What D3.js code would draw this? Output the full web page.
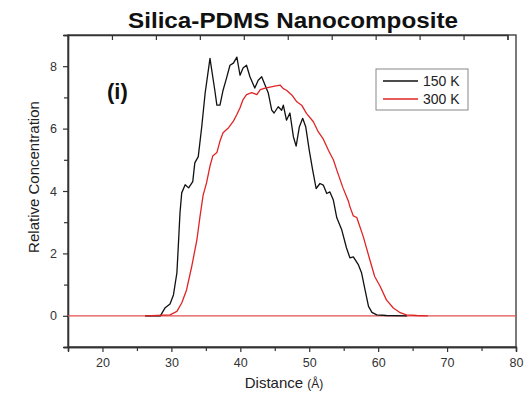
<!DOCTYPE html>
<html>

<head>
    <meta charset="UTF-8">
    <style>
        body { margin: 0; background: #fff; }
        text { font-family: "Liberation Sans", Arial, sans-serif; }
    </style>
</head>

<body>
    <script src="https://d3js.org/d3.v7.min.js"></script>
    <div id="chart"></div>
    <script>
        // 150 K curve (distance in A, relative concentration)
        var dist150 = [26.2, 28.4, 29.1, 29.8, 30.3, 30.8, 31.0, 31.25, 31.5, 32.0, 32.5, 33.1, 33.4, 33.9, 34.4, 34.9, 35.6,
            36.3, 36.6, 37.05, 37.5, 38.0, 38.5, 39.0, 39.5, 39.96, 40.4, 40.9, 41.4, 42.1, 42.6, 43.1, 43.6, 44.06, 44.56,
            44.9, 45.5, 46.0, 46.24, 46.7, 47.2, 47.7, 48.1, 48.56, 49.05, 49.5, 50.0, 50.5, 51.0, 51.56, 52.04, 52.54, 53.0,
            53.5, 54.0, 54.7, 55.4, 55.9, 56.4, 57.1, 57.6, 58.1, 58.6, 59.1, 59.8, 61.2, 64.2];
        var conc150 = [0, 0, 0.26, 0.38, 0.67, 1.38, 2.21, 3.3, 3.94, 4.2, 4.1, 4.3, 4.9, 5.1, 6.05, 7.14, 8.25,
            7.23, 6.75, 6.75, 7.23, 7.62, 8.03, 8.1, 8.29, 7.71, 7.94, 8.03, 7.66, 7.3, 7.55, 7.66, 7.39, 7.14, 6.59,
            6.5, 6.7, 6.59, 6.75, 6.27, 6.5, 5.74, 5.44, 6.05, 6.33, 6.05, 5.31, 4.67, 4.08, 4.24, 4.19, 3.92, 3.97,
            3.71, 3.14, 2.77, 2.18, 1.86, 1.89, 1.65, 1.37, 0.83, 0.3, 0.11, 0.03, 0.01, 0];

        // 300 K curve
        var dist300 = [26.2, 29.8, 30.8, 31.5, 32.2, 32.95, 33.7, 34.15, 34.6, 35.1, 35.6, 36.0, 36.6, 37.05, 37.5, 38.3,
            39.0, 39.5, 39.96, 40.4, 40.9, 41.65, 42.4, 42.9, 43.6, 44.3, 45.0, 45.8, 46.24, 46.7, 47.5, 48.2, 48.9, 49.6,
            50.6, 51.3, 52.0, 52.8, 53.5, 54.0, 54.9, 55.7, 55.9, 56.4, 56.9, 57.85, 58.8, 59.5, 60.3, 61.2, 62.2, 63.2,
            64.1, 65.6, 67.2];
        var conc300 = [0, 0.03, 0.14, 0.41, 0.83, 1.58, 2.43, 3.18, 3.86, 4.26, 4.8, 5.12, 5.23, 5.6, 5.87, 6.03,
            6.24, 6.45, 6.67, 6.93, 7.09, 7.15, 7.09, 7.25, 7.3, 7.33, 7.36, 7.39, 7.28, 7.23, 7.07, 6.86, 6.75, 6.49,
            6.22, 5.9, 5.68, 5.3, 5.0, 4.67, 4.1, 3.66, 3.5, 3.2, 3.15, 2.53, 1.79, 1.26, 0.94, 0.51, 0.25, 0.1,
            0.03, 0.01, 0];

        var seriesNames = ["150 K", "300 K"];
        var seriesColors = ["#111111", "#e02424"];
        var xTicks = [20, 30, 40, 50, 60, 70, 80];
        var yTicks = [0, 2, 4, 6, 8];

        const W = 531, H = 393;
        const margin = { top: 35, right: 15, bottom: 46, left: 68 },
            width = W - margin.left - margin.right,
            height = H - margin.top - margin.bottom;

        const svg = d3.select("#chart")
            .append("svg")
            .attr("width", W)
            .attr("height", H)
            .append("g")
            .attr("transform", `translate(${margin.left}, ${margin.top})`);

        const x = d3.scaleLinear().domain([15, 80]).range([0, width]);
        const y = d3.scaleLinear().domain([-1, 9]).range([height, 0]);

        // title
        svg.append("text")
            .attr("x", 293 - margin.left)
            .attr("y", 28 - margin.top)
            .attr("text-anchor", "middle")
            .attr("font-size", 22)
            .attr("font-weight", "bold")
            .attr("textLength", 330)
            .attr("lengthAdjust", "spacingAndGlyphs")
            .attr("fill", "#111")
            .text("Silica-PDMS Nanocomposite");

        // frame
        svg.append("rect")
            .attr("width", width)
            .attr("height", height)
            .attr("fill", "none")
            .attr("stroke", "#333")
            .attr("stroke-width", 1.3);

        // bottom axis, majors + minors
        const xAxis = svg.append("g")
            .attr("transform", `translate(0, ${height})`)
            .call(d3.axisBottom(x).tickValues(xTicks).tickSize(5).tickPadding(6).tickFormat(d3.format("d")));
        svg.append("g")
            .attr("transform", `translate(0, ${height})`)
            .call(d3.axisBottom(x).tickValues(d3.range(15, 80, 10)).tickSize(4).tickFormat(""));

        // left axis
        const yAxis = svg.append("g")
            .call(d3.axisLeft(y).tickValues(yTicks).tickSize(5).tickPadding(6).tickFormat(d3.format("d")));
        svg.append("g")
            .call(d3.axisLeft(y).tickValues([-1, 1, 3, 5, 7]).tickSize(4).tickFormat(""));

        // top ticks (inward)
        const xTop = d3.scaleLinear().domain([0, 10]).range([0, 439.5]);
        svg.append("g")
            .call(d3.axisTop(xTop).tickValues(d3.range(1, 11)).tickSize(-5).tickFormat(""));

        svg.selectAll(".domain").attr("stroke", "#333").attr("stroke-width", 1.3);
        svg.selectAll(".tick line").attr("stroke", "#333").attr("stroke-width", 1.2);
        svg.selectAll(".tick text").attr("font-size", 12.5).attr("fill", "#333")
            .attr("font-family", "Liberation Sans, Arial, sans-serif");

        // axis titles
        svg.append("text")
            .attr("transform", `translate(${39 - margin.left}, ${177 - margin.top}) rotate(-90)`)
            .attr("text-anchor", "middle")
            .attr("font-size", 15)
            .attr("fill", "#222")
            .text("Relative Concentration");

        const xl = svg.append("text")
            .attr("x", 284 - margin.left)
            .attr("y", 388 - margin.top)
            .attr("text-anchor", "middle")
            .attr("font-size", 15)
            .attr("fill", "#222");
        xl.append("tspan").text("Distance ");
        xl.append("tspan").attr("font-size", 12).text("(Å)");

        // zero baseline
        const line = d3.line().x(d => x(d[0])).y(d => y(d[1]));
        svg.append("path")
            .datum(x.domain().map(d => [d, 0]))
            .attr("d", line)
            .attr("fill", "none")
            .attr("stroke", "#e05050")
            .attr("stroke-width", 1.2);

        // curves
        const series = [d3.zip(dist150, conc150), d3.zip(dist300, conc300)];
        series.forEach(function (s, i) {
            svg.append("path")
                .datum(s)
                .attr("d", line)
                .attr("fill", "none")
                .attr("stroke", seriesColors[i])
                .attr("stroke-width", 1.3)
                .attr("stroke-linejoin", "round");
        });

        // panel label
        svg.append("text")
            .attr("x", 107 - margin.left)
            .attr("y", 99 - margin.top)
            .attr("font-size", 22)
            .attr("font-weight", "bold")
            .attr("fill", "#111")
            .text("(i)");

        // legend
        const lg = svg.append("g").attr("transform", `translate(${376 - margin.left}, ${69 - margin.top})`);
        lg.append("rect")
            .attr("width", 92)
            .attr("height", 41)
            .attr("fill", "#fff")
            .attr("stroke", "#888")
            .attr("stroke-width", 1);
        seriesNames.forEach(function (n, i) {
            lg.append("line")
                .attr("x1", 7).attr("x2", 42)
                .attr("y1", 12 + i * 18).attr("y2", 12 + i * 18)
                .attr("stroke", seriesColors[i])
                .attr("stroke-width", 1.3);
            lg.append("text")
                .attr("x", 47)
                .attr("y", 17 + i * 18)
                .attr("font-size", 14)
                .attr("fill", "#222")
                .text(n);
        });
    </script>
</body>

</html>
